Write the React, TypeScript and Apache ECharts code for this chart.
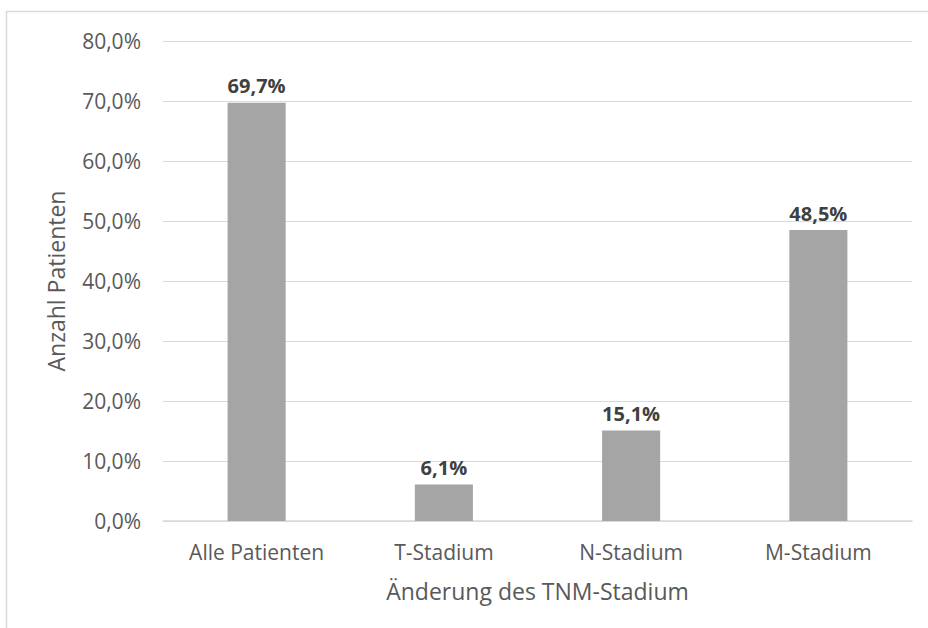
import React, { useEffect, useRef } from "react";
import * as echarts from "echarts";

const categories = ["Alle Patienten", "T-Stadium", "N-Stadium", "M-Stadium"];
const values = [69.7, 6.1, 15.1, 48.5];
const yTicks = [0, 10, 20, 30, 40, 50, 60, 70, 80];

const fmt = (v: number) => v.toFixed(1).replace(".", ",") + "%";
const FONT = "'Open Sans', 'Noto Sans', sans-serif";

export default function App() {
  const ref = useRef<HTMLDivElement>(null);
  useEffect(() => {
    if (!ref.current) return;
    const chart = echarts.init(ref.current, undefined, { renderer: "svg" });
    chart.setOption({
      animation: false,
      backgroundColor: "#ffffff",
      graphic: [
        {
          type: "rect",
          shape: { x: 6.5, y: 11.5, width: 1000, height: 1000 },
          style: { fill: "none", stroke: "#d9d9d9", lineWidth: 1.5 },
        },
      ],
      grid: { left: 163, right: 16, top: 41, bottom: 107 },
      xAxis: {
        type: "category",
        data: categories,
        name: "Änderung des TNM-Stadium",
        nameLocation: "middle",
        nameGap: 58,
        nameTextStyle: { color: "#595959", fontSize: 23, fontFamily: FONT },
        axisLine: { lineStyle: { color: "#d9d9d9", width: 1.5 } },
        axisTick: { show: false },
        axisLabel: { color: "#595959", fontSize: 21, fontFamily: FONT, margin: 20 },
      },
      yAxis: {
        type: "value",
        min: yTicks[0],
        max: yTicks[yTicks.length - 1],
        interval: 10,
        name: "Anzahl Patienten",
        nameLocation: "middle",
        nameGap: 96,
        nameTextStyle: { color: "#595959", fontSize: 23, fontFamily: FONT },
        axisLine: { show: false },
        axisTick: { show: false },
        splitLine: { lineStyle: { color: "#d9d9d9", width: 1 } },
        axisLabel: {
          color: "#595959",
          fontSize: 21,
          fontFamily: FONT,
          margin: 22,
          formatter: (v: number) => fmt(v),
        },
      },
      series: [
        {
          type: "bar",
          data: values,
          barWidth: "31%",
          itemStyle: { color: "#a5a5a5" },
          label: {
            show: true,
            position: "top",
            distance: 7,
            color: "#404040",
            fontSize: 20,
            fontWeight: "bold",
            fontFamily: FONT,
            formatter: (p: any) => fmt(p.value),
          },
        },
      ],
    });
    return () => chart.dispose();
  }, []);
  return (
    <div
      ref={ref}
      style={{ position: "fixed", left: 0, top: 0, width: 928, height: 628 }}
    />
  );
}
